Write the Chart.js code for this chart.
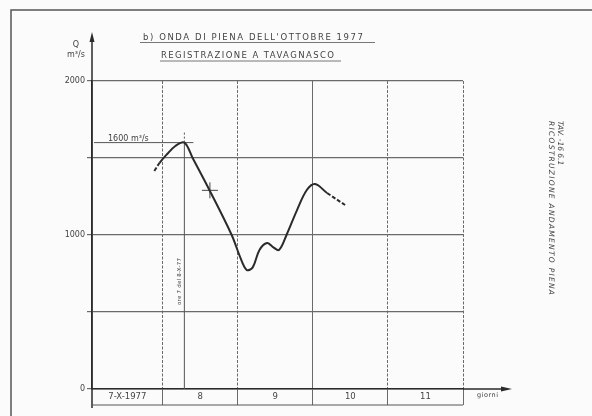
<!DOCTYPE html>
<html>
<head>
<meta charset="utf-8">
<script src="https://cdn.jsdelivr.net/npm/chart.js@4.4.0/dist/chart.umd.min.js"></script>
<style>
html, body { margin: 0; padding: 0; background: #fff; }
</style>
</head>
<body>
<canvas id="chart" width="592" height="416"></canvas>
<script>
// flood wave, Oct 1977 - days on x, discharge m3/s on y
const flowDays = [7.89, 7.96, 8.05, 8.17, 8.29, 8.40, 8.63, 8.92, 9.03, 9.12, 9.20, 9.29, 9.39, 9.47, 9.55, 9.65, 9.79, 9.92, 10.03, 10.19, 10.43];
const flowValues = [1416, 1468, 1520, 1578, 1600, 1500, 1286, 1000, 860, 773, 790, 903, 948, 922, 903, 1000, 1162, 1292, 1331, 1273, 1195];
const crossDays = [8.63];
const crossValues = [1290];

const dayBounds = [8, 9, 10, 11, 12];
const dayLabels = ['7-X-1977', '8', '9', '10', '11'];
const dayLabelPos = [7.53, 8.5, 9.5, 10.5, 11.5];
const flowTicks = [0, 500, 1000, 1500, 2000];
const flowTickLabels = ['0', '', '1000', '', '2000'];

const peakDay = 8.29;
const peakFlow = 1600;
const peakLabel = '1600 m³/s';
const peakNote = 'ore 7 del 8-X-77';

const ink = '#2b2b2b';
const gridInk = '#6a6a6a';
const textInk = '#444';

function spacedText(ctx, text, x, y, width) {
    ctx.letterSpacing = '0px';
    const w = ctx.measureText(text).width;
    const gap = Math.max(0, (width - w) / Math.max(1, text.length - 1));
    ctx.letterSpacing = gap + 'px';
    ctx.fillText(text, x, y);
    ctx.letterSpacing = '0px';
}

const drawingBits = {
    id: 'drawingBits',
    beforeDraw(chart) {
        const ctx = chart.ctx;
        ctx.save();
        ctx.fillStyle = '#fbfbfc';
        ctx.fillRect(0, 0, chart.width, chart.height);
        ctx.restore();
    },
    beforeDatasetsDraw(chart) {
        const ctx = chart.ctx;
        const xs = chart.scales.x, ys = chart.scales.y;
        const px = xs.getPixelForValue(peakDay);
        const py = ys.getPixelForValue(peakFlow);
        ctx.save();
        ctx.strokeStyle = '#555';
        ctx.lineWidth = 1;
        // horizontal peak line
        ctx.beginPath();
        ctx.moveTo(xs.left + 2, py);
        ctx.lineTo(xs.getPixelForValue(8.41), py);
        ctx.stroke();
        // vertical peak line
        ctx.beginPath();
        ctx.moveTo(px, ys.getPixelForValue(0));
        ctx.lineTo(px, py);
        ctx.stroke();
        ctx.setLineDash([2, 2]);
        ctx.beginPath();
        ctx.moveTo(px, py);
        ctx.lineTo(px, py - 10);
        ctx.stroke();
        ctx.setLineDash([]);
        // labels of the peak
        ctx.fillStyle = textInk;
        ctx.font = '8px "DejaVu Sans"';
        ctx.textAlign = 'left';
        ctx.textBaseline = 'alphabetic';
        spacedText(ctx, peakLabel, xs.left + 16, py - 2, 37);
        ctx.translate(px - 3, ys.getPixelForValue(0) - 84);
        ctx.rotate(-Math.PI / 2);
        ctx.font = '5.5px "DejaVu Sans"';
        spacedText(ctx, peakNote, 0, 0, 47);
        ctx.restore();
    },
    afterDraw(chart) {
        const ctx = chart.ctx;
        const xs = chart.scales.x, ys = chart.scales.y;
        const x0 = xs.left, xEnd = xs.right;
        const y0 = ys.getPixelForValue(0);
        ctx.save();

        // sheet frame
        ctx.strokeStyle = '#555';
        ctx.lineWidth = 1.5;
        ctx.beginPath();
        ctx.moveTo(11, 416);
        ctx.lineTo(11, 10);
        ctx.lineTo(592, 10);
        ctx.stroke();

        // axis extensions with arrows
        ctx.strokeStyle = ink;
        ctx.lineWidth = 1.5;
        ctx.beginPath();
        ctx.moveTo(x0, y0 + 19);
        ctx.lineTo(x0, 38);
        ctx.moveTo(xEnd, y0);
        ctx.lineTo(506, y0);
        ctx.stroke();
        ctx.fillStyle = ink;
        ctx.beginPath();
        ctx.moveTo(x0, 32);
        ctx.lineTo(x0 - 2.5, 42);
        ctx.lineTo(x0 + 2.5, 42);
        ctx.closePath();
        ctx.fill();
        ctx.beginPath();
        ctx.moveTo(512, y0);
        ctx.lineTo(501, y0 - 2.5);
        ctx.lineTo(501, y0 + 2.5);
        ctx.closePath();
        ctx.fill();

        // lower line closing the day strip
        ctx.strokeStyle = '#555';
        ctx.lineWidth = 1;
        ctx.beginPath();
        ctx.moveTo(x0, y0 + 16);
        ctx.lineTo(xEnd, y0 + 16);
        ctx.stroke();

        // flow tick labels
        ctx.fillStyle = textInk;
        ctx.font = '8px "DejaVu Sans"';
        ctx.textAlign = 'right';
        ctx.textBaseline = 'middle';
        flowTicks.forEach((v, i) => {
            if (flowTickLabels[i]) ctx.fillText(flowTickLabels[i], x0 - 7, ys.getPixelForValue(v));
        });

        // day labels
        ctx.textAlign = 'center';
        ctx.font = '8.5px "DejaVu Sans"';
        dayLabels.forEach((t, i) => {
            ctx.fillText(t, xs.getPixelForValue(dayLabelPos[i]), y0 + 8);
        });

        // axis names
        ctx.font = '8px "DejaVu Sans"';
        ctx.fillText('Q', 76, 45);
        ctx.fillText('m³/s', 76, 55);
        ctx.font = '6.5px "DejaVu Sans"';
        ctx.textAlign = 'left';
        spacedText(ctx, 'giorni', 477, y0 + 6, 21);

        // titles, underlined
        ctx.font = '8.5px "DejaVu Sans"';
        ctx.textAlign = 'left';
        ctx.textBaseline = 'alphabetic';
        spacedText(ctx, "b) ONDA DI PIENA DELL'OTTOBRE 1977", 143, 40, 220);
        spacedText(ctx, 'REGISTRAZIONE A TAVAGNASCO', 161, 58, 173);
        ctx.strokeStyle = '#555';
        ctx.lineWidth = 0.8;
        ctx.beginPath();
        ctx.moveTo(140, 42.5);
        ctx.lineTo(375, 42.5);
        ctx.moveTo(160, 61);
        ctx.lineTo(341, 61);
        ctx.stroke();

        // side note, rotated
        ctx.translate(560, 121);
        ctx.rotate(Math.PI / 2);
        ctx.font = 'italic 7.5px "DejaVu Sans"';
        ctx.textBaseline = 'middle';
        spacedText(ctx, 'TAV. -16 6.1', 0, 0, 44);
        spacedText(ctx, 'RICOSTRUZIONE ANDAMENTO PIENA', 0, 9, 174);
        ctx.restore();
    }
};

const ctx = document.getElementById('chart').getContext('2d');
new Chart(ctx, {
    type: 'line',
    data: {
        datasets: [{
            label: 'Q',
            data: flowDays.map((d, i) => ({ x: d, y: flowValues[i] })),
            borderColor: ink,
            borderWidth: 2,
            pointRadius: 0,
            tension: 0.35,
            fill: false,
            segment: {
                borderDash: c => (c.p0DataIndex < 1 || c.p0DataIndex >= 19) ? [4, 2] : undefined
            }
        }, {
            label: 'misura',
            data: crossDays.map((d, i) => ({ x: d, y: crossValues[i] })),
            showLine: false,
            pointStyle: 'cross',
            pointRadius: 8,
            borderColor: '#444',
            borderWidth: 1
        }]
    },
    options: {
        responsive: false,
        animation: false,
        events: [],
        layout: { padding: { left: 87, right: 129, top: 81, bottom: 11 } },
        plugins: {
            legend: { display: false },
            tooltip: { enabled: false }
        },
        scales: {
            x: {
                type: 'linear',
                min: 7.06,
                max: 12,
                afterBuildTicks: scale => { scale.ticks = dayBounds.map(v => ({ value: v })); },
                ticks: { display: false },
                grid: { color: gridInk, lineWidth: 1, drawTicks: true, tickLength: 16 },
                border: {
                    display: true, color: ink, width: 1.5,
                    dash: c => (c.tick && c.tick.value === 10) ? [] : [3, 1.5]
                }
            },
            y: {
                min: 0,
                max: 2000,
                afterBuildTicks: scale => { scale.ticks = flowTicks.map(v => ({ value: v })); },
                ticks: { display: false },
                grid: { color: gridInk, lineWidth: 1.2, drawTicks: true, tickLength: 5 },
                border: { display: true, color: ink, width: 1.5 }
            }
        }
    },
    plugins: [drawingBits]
});
</script>
</body>
</html>
